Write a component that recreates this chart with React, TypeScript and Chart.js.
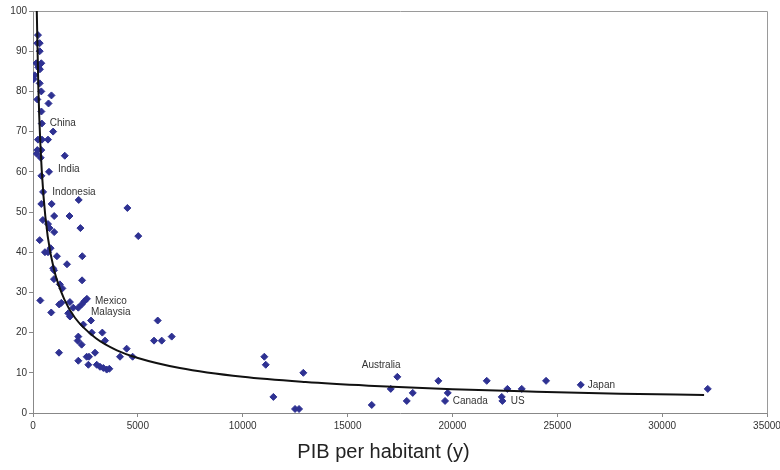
import React, { useEffect, useRef } from "react";
import { Chart, registerables } from "chart.js";

Chart.register(...registerables);

// GDP per capita (x) and poverty headcount (y) for each country
const GDP_PER_CAPITA = [
  238, 205, 320, 320, 157, 396, 250, 330, 81, 30,
  320, 396, 880, 205, 740, 400, 420, 960, 238, 429,
  715, 205, 396, 176, 367, 1515, 400, 763, 480, 2180,
  396, 890, 4500, 1010, 1740, 470, 715, 790, 1010, 2260,
  5020, 320, 840, 570, 715, 1140, 2350, 1620, 960, 1000,
  1000, 2340, 1280, 1400, 350, 1350, 1250, 1760, 870, 1680,
  1760, 1920, 2160, 2320, 2450, 2570, 2400, 2766, 2800, 3306,
  2160, 2130, 2320, 3434, 1240, 2957, 4466, 4149, 4750, 2160,
  2560, 2670, 2640, 3040, 3195, 3353, 3514, 3640, 5947, 5770,
  6138, 6614, 11031, 11098, 11462, 12495, 12686, 12891, 16153, 17373,
  17059, 17822, 18108, 19329, 19777, 19648, 21636, 22352, 22381, 22620,
  23306, 24465, 26119, 32176,
];
const POVERTY = [
  94, 92, 92, 90, 87, 87, 86, 85.5, 84, 83,
  82, 80, 79, 78, 77, 75, 72, 70, 68, 68,
  68, 65.4, 65.4, 64.5, 63.5, 64, 59, 60, 55, 53,
  52, 52, 51, 49, 49, 48, 47, 46, 45, 46,
  44, 43, 41, 40, 40, 39, 39, 37, 36, 35.5,
  33.3, 33, 32, 31, 28, 27.4, 27, 27.6, 25, 24.8,
  24, 26.2, 26.2, 27, 27.8, 28.4, 22, 23, 20, 20,
  19, 18, 17, 18, 15, 15, 16, 14, 14, 13,
  14, 14, 12, 12, 11.5, 11.2, 10.8, 11, 23, 18,
  18, 19, 14, 12, 4, 1, 1, 10, 2, 9,
  6, 3, 5, 8, 5, 3, 8, 4, 3, 6,
  6, 8, 7, 6,
];

// Power trend line
const TREND_X = [160, 180, 250, 350, 500, 700, 1000, 1500, 2000, 3000, 4000, 5000, 7000, 10000, 13000, 16000, 20000, 24000, 28000, 32000];
const TREND_Y = [107, 100, 82, 67, 54, 44, 35.7, 28.2, 23.7, 18.6, 15.6, 13.7, 11.2, 9.0, 7.7, 6.8, 5.9, 5.3, 4.8, 4.5];

// Country annotations (text anchored at data coordinates)
const LABEL_NAMES = ["China", "India", "Indonesia", "Mexico", "Malaysia", "Australia", "Canada", "US", "Japan"];
const LABEL_X = [796, 1192, 920, 2957, 2766, 15675, 20016, 22782, 26453];
const LABEL_Y = [72, 60.7, 55, 27.7, 25.1, 11.9, 2.8, 2.8, 6.8];

const X_TICKS = [0, 5000, 10000, 15000, 20000, 25000, 30000, 35000];
const Y_TICKS = [0, 10, 20, 30, 40, 50, 60, 70, 80, 90, 100];

const X_TITLE = "PIB per habitant (y)";

const FONT = "'Liberation Sans', Arial, Helvetica, sans-serif";

const framePlugin = {
  id: "frame",
  beforeDatasetsDraw(chart: any) {
    const { ctx, chartArea } = chart;
    ctx.save();
    ctx.strokeStyle = "#9a9a9a";
    ctx.lineWidth = 1;
    ctx.beginPath();
    ctx.moveTo(Math.round(chartArea.left) + 0.5, Math.round(chartArea.top) + 0.5);
    ctx.lineTo(Math.round(chartArea.right) + 0.5, Math.round(chartArea.top) + 0.5);
    ctx.lineTo(Math.round(chartArea.right) + 0.5, Math.round(chartArea.bottom) + 0.5);
    ctx.stroke();
    ctx.restore();
  },
};

const labelPlugin = {
  id: "countryLabels",
  afterDatasetsDraw(chart: any) {
    const { ctx, scales } = chart;
    ctx.save();
    ctx.font = `10px ${FONT}`;
    ctx.fillStyle = "#333333";
    ctx.textAlign = "left";
    ctx.textBaseline = "middle";
    LABEL_NAMES.forEach((name, i) => {
      const px = scales.x.getPixelForValue(LABEL_X[i]);
      const py = scales.y.getPixelForValue(LABEL_Y[i]);
      ctx.fillText(name, px, py);
    });
    ctx.restore();
  },
};

export default function App() {
  const canvasRef = useRef<HTMLCanvasElement | null>(null);

  useEffect(() => {
    const canvas = canvasRef.current;
    if (!canvas) return;

    const points = GDP_PER_CAPITA.map((x, i) => ({ x, y: POVERTY[i] }));
    const trend = TREND_X.map((x, i) => ({ x, y: TREND_Y[i] }));

    const tickStyle = { size: 10, family: FONT };

    const chart = new Chart(canvas, {
      type: "scatter",
      data: {
        datasets: [
          {
            type: "line",
            label: "Trend",
            data: trend,
            borderColor: "#111111",
            borderWidth: 2,
            pointRadius: 0,
            fill: false,
            cubicInterpolationMode: "monotone",
            clip: 0,
            order: 0,
          } as any,
          {
            label: "Countries",
            data: points,
            pointStyle: "rectRot",
            pointRadius: 3.5,
            pointHoverRadius: 3.5,
            backgroundColor: "#2E3192",
            borderColor: "#2E3192",
            borderWidth: 1,
            order: 1,
          },
        ],
      },
      options: {
        animation: false,
        responsive: false,
        devicePixelRatio: 1,
        layout: { padding: { top: 11, right: 13, left: 0, bottom: 0 } },
        plugins: {
          legend: { display: false },
          tooltip: { enabled: false },
          title: {
            display: true,
            position: "bottom",
            text: X_TITLE,
            color: "#222222",
            font: { size: 20, family: FONT, weight: "normal" as any },
            padding: { top: 0, bottom: 6 },
          },
        },
        scales: {
          x: {
            type: "linear",
            min: 0,
            max: 35000,
            afterBuildTicks: (s: any) => {
              s.ticks = X_TICKS.map((v) => ({ value: v }));
            },
            afterFit: (s: any) => {
              s.height = 27;
              s.paddingRight = 0;
            },
            ticks: {
              autoSkip: false,
              maxRotation: 0,
              color: "#333333",
              font: tickStyle,
              padding: 3,
              callback: (v: any) => String(v),
            },
            grid: {
              drawOnChartArea: false,
              drawTicks: true,
              tickLength: 4,
              color: "#888888",
            },
            border: { color: "#888888", width: 1 },
          },
          y: {
            type: "linear",
            min: 0,
            max: 100,
            afterBuildTicks: (s: any) => {
              s.ticks = Y_TICKS.map((v) => ({ value: v }));
            },
            afterFit: (s: any) => {
              s.width = 33;
            },
            ticks: {
              color: "#333333",
              font: tickStyle,
              padding: 2,
              callback: (v: any) => String(v),
            },
            grid: {
              drawOnChartArea: false,
              drawTicks: true,
              tickLength: 4,
              color: "#888888",
            },
            border: { color: "#888888", width: 1 },
          },
        },
      },
      plugins: [framePlugin, labelPlugin],
    });

    return () => chart.destroy();
  }, []);

  return (
    <div
      style={{
        position: "absolute",
        left: 0,
        top: 0,
        width: 780,
        height: 470,
        background: "#ffffff",
      }}
    >
      <canvas ref={canvasRef} width={780} height={470} style={{ width: 780, height: 470, display: "block" }} />
    </div>
  );
}
